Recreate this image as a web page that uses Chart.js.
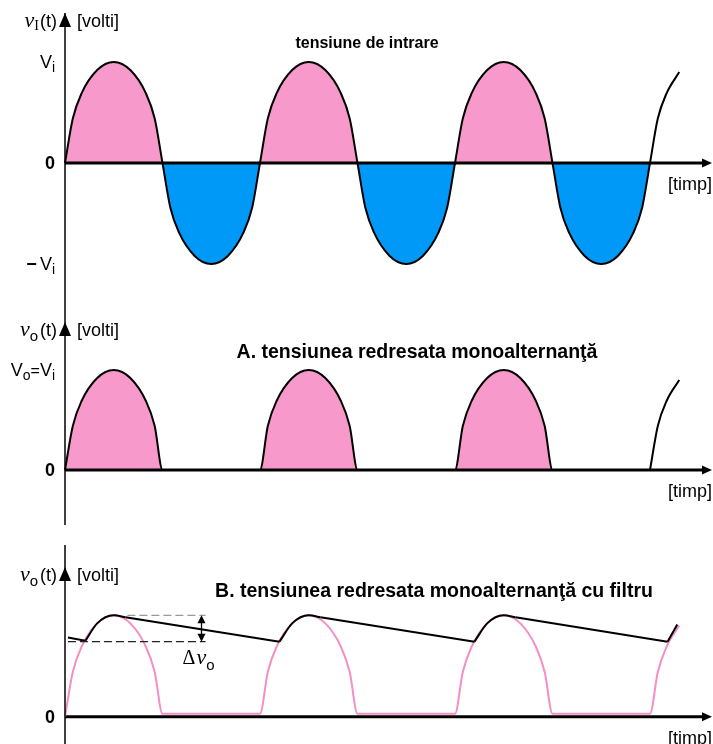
<!DOCTYPE html>
<html>
<head>
<meta charset="utf-8">
<script src="https://cdn.jsdelivr.net/npm/chart.js@4.4.0/dist/chart.umd.min.js"></script>
<style>
    body { margin: 0; background: #fff; }
    #wrap { position: relative; width: 713px; height: 744px; }
    canvas { position: absolute; left: 0; }
</style>
</head>
<body>
<div id="wrap">
    <canvas id="c1" width="713" height="322" style="top:0"></canvas>
    <canvas id="c2" width="713" height="213" style="top:322px"></canvas>
    <canvas id="c3" width="713" height="209" style="top:535px"></canvas>
</div>
<script>
// timp, in semiperioade
const timp = [
    0, 0.08, 0.17, 0.33, 0.5, 0.67, 0.83, 0.92,
    1, 1.08, 1.17, 1.33, 1.5, 1.67, 1.83, 1.92,
    2, 2.08, 2.17, 2.33, 2.5, 2.67, 2.83, 2.92,
    3, 3.08, 3.17, 3.33, 3.5, 3.67, 3.83, 3.92,
    4, 4.08, 4.17, 4.33, 4.5, 4.67, 4.83, 4.92,
    5, 5.08, 5.17, 5.33, 5.5, 5.67, 5.83, 5.92,
    6
];
// tensiunea de intrare (raportata la Vi)
const vIntrare = [
    0, 0.44, 0.69, 0.92, 1, 0.92, 0.69, 0.44,
    0, -0.44, -0.69, -0.92, -1, -0.92, -0.69, -0.44,
    0, 0.44, 0.69, 0.92, 1, 0.92, 0.69, 0.44,
    0, -0.44, -0.69, -0.92, -1, -0.92, -0.69, -0.44,
    0, 0.44, 0.69, 0.92, 1, 0.92, 0.69, 0.44,
    0, -0.44, -0.69, -0.92, -1, -0.92, -0.69, -0.44,
    0
];
// redresare monoalternanta
const vRedresat = [
    0, 0.44, 0.69, 0.92, 1, 0.92, 0.69, 0.44,
    0, 0, 0, 0, 0, 0, 0, 0,
    0, 0.44, 0.69, 0.92, 1, 0.92, 0.69, 0.44,
    0, 0, 0, 0, 0, 0, 0, 0,
    0, 0.44, 0.69, 0.92, 1, 0.92, 0.69, 0.44,
    0, 0, 0, 0, 0, 0, 0, 0,
    0
];
// aceeasi tensiune in graficul B (linia roz sta putin deasupra axei)
const vRedresatB = [
    0, 0.44, 0.69, 0.92, 1, 0.92, 0.69, 0.44,
    0.03, 0.03, 0.03, 0.03, 0.03, 0.03, 0.03, 0.03,
    0.03, 0.44, 0.69, 0.92, 1, 0.92, 0.69, 0.44,
    0.03, 0.03, 0.03, 0.03, 0.03, 0.03, 0.03, 0.03,
    0.03, 0.44, 0.69, 0.92, 1, 0.92, 0.69, 0.44,
    0.03, 0.03, 0.03, 0.03, 0.03, 0.03, 0.03, 0.03,
    0.03
];
// inceputul ultimei alternante (fara umplere)
const timpCoada = [6, 6.08, 6.17, 6.3];
const vCoada = [0, 0.44, 0.69, 0.9];

// tensiunea cu filtru: incarcarea condensatorului
const timpIncarcare = [0.21, 0.33, 0.5, 0.62, 1, 2.2, 2.33, 2.5, 2.62, 3, 4.2, 4.33, 4.5, 4.62, 5, 6.18, 6.28];
const vIncarcare = [0.75, 0.92, 1, 0.98, null, 0.74, 0.92, 1, 0.98, null, 0.74, 0.92, 1, 0.98, null, 0.74, 0.91];
// descarcarea condensatorului
const timpDescarcare = [0.03, 0.21, 0.4, 0.62, 2.2, 2.4, 2.62, 4.2, 4.4, 4.62, 6.18];
const vDescarcare = [0.78, 0.75, null, 0.98, 0.74, null, 0.98, 0.74, null, 0.98, 0.74];
// riplu: nivel maxim / minim
const riplu = [1, 0.74];

const SANS = '"Liberation Sans", Arial, sans-serif';
const SERIF = '"Liberation Serif", "DejaVu Serif", serif';
const ROZ = '#f899cb';
const ALBASTRU = '#0099f8';

function puncte(xs, ys) {
    return xs.map((x, i) => ({ x: x, y: ys[i] }));
}

// scrie text compus (indici etc.)
function scrie(ctx, x, y, parts, align) {
    let w = 0;
    parts.forEach(p => { ctx.font = p.f; w += ctx.measureText(p.t).width + (p.gap || 0); });
    let cx = align === 'right' ? x - w : (align === 'center' ? x - w / 2 : x);
    ctx.textAlign = 'left';
    ctx.textBaseline = 'alphabetic';
    parts.forEach(p => {
        ctx.font = p.f;
        ctx.fillText(p.t, cx, y + (p.dy || 0));
        cx += ctx.measureText(p.t).width + (p.gap || 0);
    });
}

function liniaZero(chart) {
    const ctx = chart.ctx;
    const x0 = chart.scales.x.getPixelForValue(0);
    const y0 = chart.scales.y.getPixelForValue(0);
    const xe = chart.width - 1;
    ctx.save();
    ctx.fillStyle = '#000';
    ctx.strokeStyle = '#000';
    ctx.lineWidth = 3;
    ctx.beginPath();
    ctx.moveTo(x0, y0);
    ctx.lineTo(xe - 8, y0);
    ctx.stroke();
    ctx.beginPath();
    ctx.moveTo(xe, y0);
    ctx.lineTo(xe - 10, y0 - 4.5);
    ctx.lineTo(xe - 10, y0 + 4.5);
    ctx.closePath();
    ctx.fill();
    ctx.restore();
}

const axePlugin = {
    id: 'axe',
    beforeDatasetsDraw(chart, args, o) {
        if (o.zeroSub) liniaZero(chart);
    },
    afterDatasetsDraw(chart, args, o) {
        const ctx = chart.ctx;
        const xs = chart.scales.x, ys = chart.scales.y;
        const x0 = xs.getPixelForValue(0);
        const y0 = ys.getPixelForValue(0);
        if (!o.zeroSub) liniaZero(chart);
        ctx.save();
        ctx.fillStyle = '#000';
        ctx.strokeStyle = '#000';
        // axa verticala
        ctx.lineWidth = 1.5;
        ctx.beginPath();
        ctx.moveTo(x0, o.linieSus);
        ctx.lineTo(x0, o.linieJos);
        ctx.stroke();
        ctx.beginPath();
        ctx.moveTo(x0, o.sageata);
        ctx.lineTo(x0 - 6, o.sageata + 14);
        ctx.lineTo(x0 + 6, o.sageata + 14);
        ctx.closePath();
        ctx.fill();
        // eticheta axei
        scrie(ctx, x0 - 8, o.sageata + 14, o.nume, 'right');
        scrie(ctx, x0 + 12, o.sageata + 14, [{ t: '[volti]', f: '18px ' + SANS }]);
        // valori pe axa y
        o.ticks.forEach(tk => {
            scrie(ctx, x0 - 10, ys.getPixelForValue(tk.v) + 6, tk.p, 'right');
        });
        // [timp]
        ctx.font = '18px ' + SANS;
        ctx.textAlign = 'right';
        ctx.textBaseline = 'middle';
        ctx.fillText('[timp]', chart.width - 1, y0 + 22);
        // titlu
        ctx.font = 'bold ' + o.titluMarime + 'px ' + SANS;
        ctx.textAlign = 'center';
        ctx.fillText(o.titlu, o.titluX, o.titluY);
        if (o.riplu) {
            const yS = ys.getPixelForValue(riplu[0]);
            const yJ = ys.getPixelForValue(riplu[1]);
            const xA = xs.getPixelForValue(1.4);
            ctx.lineWidth = 1.3;
            ctx.setLineDash([8, 4]);
            ctx.strokeStyle = '#999';
            ctx.beginPath();
            ctx.moveTo(xs.getPixelForValue(0.64), yS);
            ctx.lineTo(xA + 4, yS);
            ctx.stroke();
            ctx.strokeStyle = '#222';
            ctx.beginPath();
            ctx.moveTo(xs.getPixelForValue(0.03), yJ);
            ctx.lineTo(xA + 4, yJ);
            ctx.stroke();
            ctx.setLineDash([]);
            ctx.strokeStyle = '#000';
            ctx.beginPath();
            ctx.moveTo(xA, yS + 3);
            ctx.lineTo(xA, yJ - 3);
            ctx.stroke();
            [[yS, 1], [yJ, -1]].forEach(([yy, d]) => {
                ctx.beginPath();
                ctx.moveTo(xA, yy);
                ctx.lineTo(xA - 4, yy + 8 * d);
                ctx.lineTo(xA + 4, yy + 8 * d);
                ctx.closePath();
                ctx.fill();
            });
            scrie(ctx, xA - 3, yJ + 22, [
                { t: 'Δ', f: '20px ' + SERIF, gap: 1 },
                { t: 'v', f: 'italic 22px ' + SERIF },
                { t: 'o', f: '15px ' + SANS, dy: 6 }
            ], 'center');
        }
        ctx.restore();
    }
};

// dimensiuni: x0 = 65px, o semiperioada = 97.5px
const XMAX = (712 - 65) / 97.5;

function optiuni(ymin, ymax, padSus, padJos, axe) {
    return {
        responsive: false,
        animation: false,
        layout: { padding: { left: 65, right: 1, top: padSus, bottom: padJos } },
        scales: {
            x: { type: 'linear', min: 0, max: XMAX, display: false },
            y: { min: ymin, max: ymax, display: false }
        },
        elements: { point: { radius: 0 } },
        plugins: {
            legend: { display: false },
            tooltip: { enabled: false },
            axe: axe
        }
    };
}

function coada() {
    return {
        data: puncte(timpCoada, vCoada),
        borderColor: '#000',
        borderWidth: 2,
        cubicInterpolationMode: 'monotone',
        fill: false,
        clip: false
    };
}

const V = [{ t: 'V', f: '18px ' + SANS }, { t: 'i', f: '14px ' + SANS, dy: 4 }];
const ZERO = [{ t: '0', f: 'bold 18px ' + SANS }];

// tensiune de intrare
new Chart(document.getElementById('c1'), {
    type: 'line',
    data: {
        datasets: [{
            data: puncte(timp, vIntrare),
            borderColor: '#000',
            borderWidth: 2,
            cubicInterpolationMode: 'monotone',
            fill: { target: { value: 0 }, above: ROZ, below: ALBASTRU },
            clip: false
        }, coada()]
    },
    options: optiuni(-1.2, 1.2, 41.8, 37.8, {
        sageata: 13, linieSus: 13, linieJos: 322,
        nume: [{ t: 'v', f: 'italic 22px ' + SERIF }, { t: 'I', f: '14px ' + SERIF, dy: 3, gap: 1 }, { t: '(t)', f: '18px ' + SANS }],
        ticks: [
            { v: 1, p: V },
            { v: 0, p: ZERO },
            { v: -1, p: [{ t: '−', f: 'bold 18px ' + SANS, gap: 3 }].concat(V) }
        ],
        titlu: 'tensiune de intrare', titluX: 367, titluY: 44, titluMarime: 16
    }),
    plugins: [axePlugin]
});

// A. redresare monoalternanta
new Chart(document.getElementById('c2'), {
    type: 'line',
    data: {
        datasets: [{
            data: puncte(timp, vRedresat),
            borderColor: '#000',
            borderWidth: 2,
            cubicInterpolationMode: 'monotone',
            fill: { target: { value: 0 }, above: ROZ, below: ROZ },
            clip: false
        }, coada()]
    },
    options: optiuni(-0.2, 1.2, 28, 45, {
        sageata: 0, linieSus: 0, linieJos: 203,
        nume: [{ t: 'v', f: 'italic 22px ' + SERIF }, { t: 'o', f: '15px ' + SANS, dy: 5, gap: 2 }, { t: '(t)', f: '18px ' + SANS }],
        ticks: [
            { v: 1, p: [{ t: 'V', f: '18px ' + SANS }, { t: 'o', f: '14px ' + SANS, dy: 4 }, { t: '=', f: '16px ' + SANS }].concat(V) },
            { v: 0, p: ZERO }
        ],
        titlu: 'A. tensiunea redresata monoalternanţă', titluX: 417, titluY: 31, titluMarime: 19.5
    }),
    plugins: [axePlugin]
});

// B. cu filtru
new Chart(document.getElementById('c3'), {
    type: 'line',
    data: {
        datasets: [{
            data: puncte(timpIncarcare, vIncarcare),
            borderColor: '#000',
            borderWidth: 2,
            cubicInterpolationMode: 'monotone',
            spanGaps: false,
            fill: false,
            order: 0,
            clip: false
        }, {
            data: puncte(timpDescarcare, vDescarcare),
            borderColor: '#000',
            borderWidth: 2,
            tension: 0,
            spanGaps: false,
            fill: false,
            order: 0,
            clip: false
        }, {
            data: puncte(timp.concat(timpCoada.slice(1)), vRedresatB.concat(vCoada.slice(1))),
            borderColor: '#f48fc6',
            borderWidth: 2,
            cubicInterpolationMode: 'monotone',
            fill: false,
            order: 1,
            clip: false
        }]
    },
    options: optiuni(-0.2, 1.2, 60, 7, {
        zeroSub: true,
        sageata: 32, linieSus: 10, linieJos: 209,
        nume: [{ t: 'v', f: 'italic 22px ' + SERIF }, { t: 'o', f: '15px ' + SANS, dy: 5, gap: 2 }, { t: '(t)', f: '18px ' + SANS }],
        ticks: [{ v: 0, p: ZERO }],
        titlu: 'B. tensiunea redresata monoalternanţă cu filtru', titluX: 434, titluY: 57, titluMarime: 19.5,
        riplu: true
    }),
    plugins: [axePlugin]
});
</script>
</body>
</html>
